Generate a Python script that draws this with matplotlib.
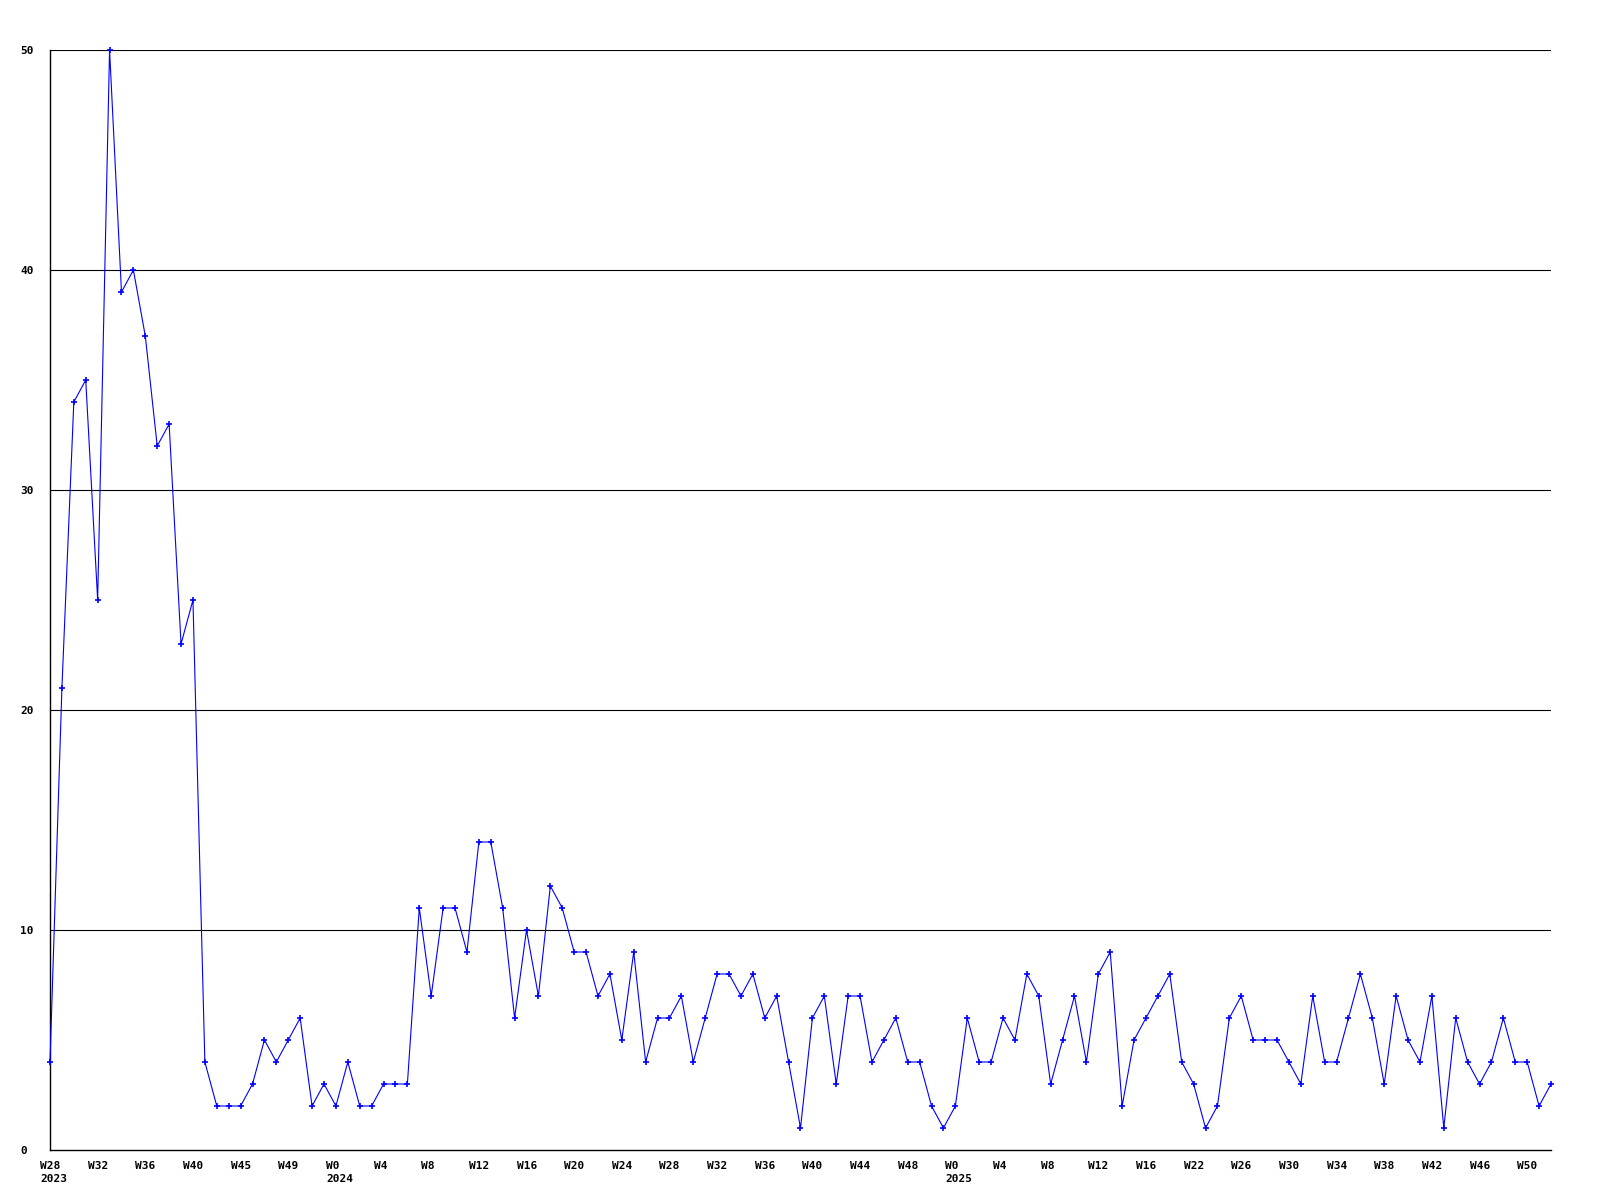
import matplotlib

matplotlib.use("Agg")

import matplotlib.pyplot as plt
from matplotlib.transforms import ScaledTranslation

# weekly counts, starting at W28 2023
values = [
    4, 21, 34, 35, 25, 50, 39, 40, 37, 32, 33, 23, 25, 4, 2, 2, 2, 3, 5, 4,
    5, 6, 2, 3, 2, 4, 2, 2, 3, 3, 3, 11, 7, 11, 11, 9, 14, 14, 11, 6,
    10, 7, 12, 11, 9, 9, 7, 8, 5, 9, 4, 6, 6, 7, 4, 6, 8, 8, 7, 8,
    6, 7, 4, 1, 6, 7, 3, 7, 7, 4, 5, 6, 4, 4, 2, 1, 2, 6, 4, 4,
    6, 5, 8, 7, 3, 5, 7, 4, 8, 9, 2, 5, 6, 7, 8, 4, 3, 1, 2, 6,
    7, 5, 5, 5, 4, 3, 7, 4, 4, 6, 8, 6, 3, 7, 5, 4, 7, 1, 6, 4,
    3, 4, 6, 4, 4, 2, 3,
]

tick_labels = [
    "W28\n2023", "W32", "W36", "W40", "W45", "W49", "W0\n2024", "W4", "W8",
    "W12", "W16", "W20", "W24", "W28", "W32", "W36", "W40", "W44", "W48",
    "W0\n2025", "W4", "W8", "W12", "W16", "W22", "W26", "W30", "W34", "W38",
    "W42", "W46", "W50",
]
tick_every = 4

y_ticks = [0, 10, 20, 30, 40, 50]

font = "DejaVu Sans Mono"

fig = plt.figure(figsize=(16, 12), dpi=100)
ax = fig.add_axes([50 / 1600, 50 / 1200, 1501 / 1600, 1100 / 1200])

x = list(range(len(values)))
ax.plot(x, values, color="#0000ff", linewidth=0.8, marker="+",
        markersize=4, markeredgewidth=1.2, zorder=3, clip_on=False)

ax.set_xlim(0, len(values) - 1)
ax.set_ylim(0, 50)

for v in y_ticks[1:]:
    ax.axhline(v, color="black", linewidth=0.8, zorder=1)

for side in ("top", "right"):
    ax.spines[side].set_visible(False)
for side in ("left", "bottom"):
    ax.spines[side].set_color("black")
    ax.spines[side].set_linewidth(1.0)

ax.set_yticks(y_ticks)
ax.set_yticklabels([str(v) for v in y_ticks], fontfamily=font,
                   fontweight="bold", fontsize=8, ha="left")
ax.tick_params(axis="y", length=0, pad=21.6)

ax.set_xticks([i * tick_every for i in range(len(tick_labels))])
ax.set_xticklabels(tick_labels, fontfamily=font, fontweight="bold",
                   fontsize=8, ha="left", va="top", linespacing=1.35,
                   multialignment="left")
ax.tick_params(axis="x", length=0, pad=8)
shift = ScaledTranslation(-10 / 100, 0, fig.dpi_scale_trans)
for lbl in ax.get_xticklabels():
    lbl.set_transform(lbl.get_transform() + shift)

fig.savefig("out.png", dpi=100, facecolor="white")
